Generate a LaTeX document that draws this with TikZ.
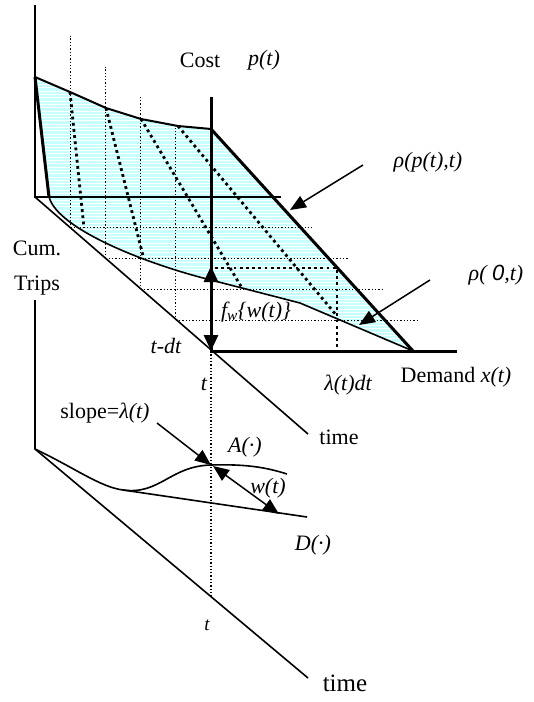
\documentclass[tikz,border=0pt]{standalone}
\usepackage{fontspec}
\setmainfont{Liberation Serif}
\setsansfont{Liberation Sans}
\usetikzlibrary{arrows.meta,calc}
\definecolor{DemandFill}{HTML}{C8FFFF}
\newcommand{\lblsize}{\fontsize{22}{26}\selectfont}
\newcommand{\smallsize}{\fontsize{19}{22}\selectfont}

\begin{document}
\begin{tikzpicture}[x=1pt,y=-1pt,
  axis/.style={line width=1.6pt},
  boldaxis/.style={line width=3pt},
  gridline/.style={line width=1.3pt,dash pattern=on 1.3pt off 2pt},
  slice/.style={line width=2.8pt,dash pattern=on 2.8pt off 3.4pt},
  pointer/.style={line width=1.5pt,-{Triangle[length=16pt,width=13pt]}},
  twoway/.style={line width=1.5pt,{Triangle[length=16pt,width=13pt]}-{Triangle[length=16pt,width=13pt]}},
  lbl/.style={font=\lblsize,inner sep=0pt},
  ilbl/.style={font=\lblsize\itshape,inner sep=0pt}]
  \useasboundingbox (0,0) rectangle (534,702);

  \coordinate (o) at (35,197);
  \coordinate (dt) at (35.2,30.8);
  \coordinate (now) at (211,351);
  \coordinate (apex) at (413,351);

  % demand region
  \begin{scope}
    \clip (35,77) -- (70,92) -- (106,108) -- (141,119) -- (178,126) -- (211,129) -- (apex)
      -- (300,303) -- (211,280) .. controls (150,265) and (58,230) .. (49,197) -- cycle;
    \fill[DemandFill] (30,70) rectangle (420,355);
    \foreach \yy in {78,81.3,...,352}
      \draw[white,line width=0.9pt] (30,\yy) -- (420,\yy);
  \end{scope}

  \foreach \k in {1,...,4} {
    \draw[gridline] ($(o)+\k*(dt)$) -- ++(0,-192);
    \draw[gridline] ($(o)+\k*(dt)$) -- ++(243,0);
  }

  \draw[axis] (35,5) -- (o) -- (281,197);
  \draw[axis] (o) -- (308,434);
  \draw[line width=2pt] (35,77) -- (70,92) -- (106,108) -- (141,119) -- (178,126) -- (211,129);
  \draw[boldaxis] (35,77) -- (49,197);
  \draw[boldaxis] (211,129) -- (apex);
  \draw[axis] (apex) -- (300,303) -- (211,280) .. controls (150,265) and (58,230) .. (49,197);

  \draw[slice] (70,92) -- (84,228);
  \draw[slice] (106,108) -- (143,256);
  \draw[slice] (141,119) -- (242,288);
  \draw[slice] (178,126) -- (337,316);
  \draw[slice] (215,268) -- (337,268) -- (337,351);

  \draw[boldaxis] (211,97) -- (now) -- (457,351);
  \draw[boldaxis,{Triangle[length=16pt,width=14pt]}-{Triangle[length=16pt,width=14pt]}] (211,266) -- (now);

  \node[lbl] (cost) at (200,60) {Cost};
  \node[ilbl] (price) at (264,60) {p(t)};
  \node[ilbl] (rhoP) at (428,162) {ρ(p(t),t)};
  \node[ilbl] (rhoZ) at (496,275) {ρ( {\sffamily 0},t)};
  \coordinate (rhoPtip) at (290,210);
  \coordinate (rhoZtip) at (359,325);
  \draw[pointer] (363,165) -- (rhoPtip);
  \draw[pointer] (430,280) -- (rhoZtip);
  \node[ilbl] (fw) at (256,312) {f\textsubscript{w}\{w(t)\}};
  \node[ilbl] (tdt) at (166,346) {t-dt};
  \node[ilbl] (t1) at (204,384) {t};
  \node[ilbl] (ldt) at (348,385) {λ(t)dt};
  \node[lbl] (demand) at (456,377) {Demand \textit{x(t)}};
  \node[lbl] (time1) at (339,437) {time};
  \node[lbl] (cum) at (37,248) {Cum.};
  \node[lbl] (trips) at (37,286) {Trips};

  % cumulative counts
  \coordinate (o2) at (35,449);
  \draw[axis] (35,300) -- (o2) -- (308,678);
  \draw[gridline] (now) -- (211,598);
  \draw[axis] (o2) .. controls (75,468) and (100,487) .. (123,490) coordinate (split) -- (307,517);
  \draw[axis] (split) .. controls (160,495) and (170,466) .. (211,465) coordinate (arr)
    .. controls (245,464) and (265,467) .. (287,474);
  \coordinate (dep) at (279,514);
  \draw[pointer] (157,423) -- (arr);
  \draw[twoway] ($(arr)+(2,1)$) -- (dep);

  \node[lbl] (slope) at (105,413) {slope=\textit{λ(t)}};
  \node[ilbl] (acurve) at (245,447) {A(·)};
  \node[ilbl] (wait) at (268,488) {w(t)};
  \node[ilbl] (dcurve) at (313,545) {D(·)};
  \node[font=\smallsize\itshape,inner sep=0pt] (t2) at (207,625) {t};
  \node[font=\fontsize{25}{30}\selectfont,inner sep=0pt] (time2) at (345,683) {time};
\end{tikzpicture}
\end{document}
